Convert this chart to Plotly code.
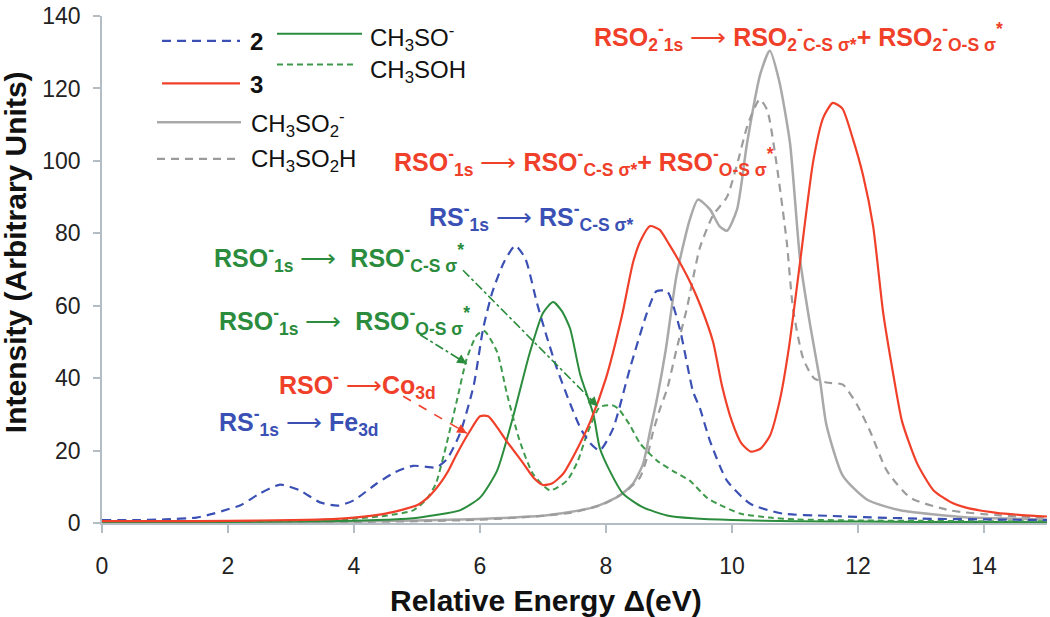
import plotly.graph_objects as go

# ---------------- data ----------------
energy_2 = [0, 0.5, 1.0, 1.5, 1.77, 2.0, 2.2, 2.5, 2.83, 3.14, 3.46, 3.75, 4.0, 4.36, 4.65,
            4.94, 5.15, 5.3, 5.47, 5.68, 5.9, 6.05, 6.2, 6.38, 6.56, 6.72, 6.9, 7.05, 7.22,
            7.43, 7.6, 7.75, 7.9, 8.11, 8.38, 8.65, 8.8, 8.97, 9.17, 9.38, 9.49, 9.65, 9.92,
            10.29, 10.8, 11.5, 12.1, 13, 14, 15]
intensity_2 = [0.8, 0.8, 1.0, 1.5, 2.6, 3.8, 4.9, 8.1, 10.6, 9.0, 5.7, 4.8, 6.3, 10.9, 14.0,
               15.8, 15.5, 15.3, 17.5, 24.6, 38, 53.7, 64, 72, 76.6, 73, 61, 52, 42.7,
               33, 26, 22, 20, 26, 42.7, 58, 64, 64, 53.7, 36.4, 31.7, 22.7, 11.7,
               5.3, 2.6, 2.0, 1.6, 1.2, 1.0, 0.8]

energy_3 = [0, 1, 2, 3, 3.5, 4.0, 4.5, 5.0, 5.2, 5.37, 5.5, 5.63, 5.84, 6.0, 6.13, 6.27, 6.42,
            6.69, 6.85, 7.0, 7.15, 7.32, 7.5, 7.75, 8.0, 8.25, 8.43, 8.55, 8.7, 8.85, 9.0,
            9.17, 9.35, 9.5, 9.7, 9.84, 10.0, 10.15, 10.3, 10.45, 10.6, 10.76, 10.9, 11.08,
            11.29, 11.45, 11.6, 11.75, 11.92, 12.08, 12.24, 12.4, 12.56, 12.7, 12.94, 13.2,
            13.5, 13.7, 14.2, 14.6, 15]
intensity_3 = [0.5, 0.5, 0.6, 0.8, 1.0, 1.5, 2.6, 4.9, 7.5, 11.0, 14.5, 19, 25.4, 29.5, 29.5,
               26.5, 22.7, 16.4, 12.5, 10.5, 11, 13.6, 19, 28, 40, 57, 72, 78, 82, 81, 77,
               72, 66, 60, 50, 38, 28, 22, 19.7, 20.5, 24, 34, 48, 72, 100, 112, 116, 114.5,
               106, 96, 82, 58, 41, 28, 16.4, 9, 5.5, 4.3, 2.8, 2.2, 1.8]

energy_ch3so = [0, 1, 2, 3, 4, 4.5, 4.94, 5.3, 5.68, 6.0, 6.27, 6.52, 6.79, 7.0, 7.16, 7.3,
                7.43, 7.59, 7.8, 7.9, 8.06, 8.27, 8.59, 8.97, 9.38, 10, 11, 12, 13, 14, 15]
intensity_ch3so = [0.2, 0.2, 0.3, 0.4, 0.6, 0.9, 1.3, 2.2, 3.5, 7, 14.4, 29, 47, 58, 61, 58.5,
                   53.7, 41, 30, 20.8, 14.4, 8.1, 4.3, 2.1, 1.3, 0.8, 0.5, 0.4, 0.3, 0.3, 0.2]

energy_ch3soh = [0, 1, 2, 3, 4, 4.5, 4.94, 5.15, 5.3, 5.47, 5.63, 5.79, 5.95, 6.07, 6.27, 6.43,
                 6.63, 6.84, 7.11, 7.38, 7.55, 7.7, 7.9, 8.1, 8.2, 8.38, 8.54, 8.81, 9.06,
                 9.33, 9.6, 9.76, 10.13, 10.6, 11, 12, 13, 14, 15]
intensity_ch3soh = [0.5, 0.5, 0.5, 0.6, 1.2, 2.0, 3.5, 6.5, 10.9, 21.9, 33.6, 45.4, 51.9, 53,
                    47.3, 35.5, 22.7, 13.6, 9, 11.7, 17, 24.6, 32, 32.5, 31.5, 27, 22, 17.2,
                    14.4, 11.7, 7, 5.4, 2.6, 1.5, 1.0, 0.7, 0.6, 0.5, 0.5]

energy_ch3so2 = [0, 2, 4, 5, 6, 6.5, 7.0, 7.27, 7.8, 8.22, 8.43, 8.59, 8.7, 8.81, 8.95, 9.12,
                 9.33, 9.46, 9.65, 9.8, 9.92, 10.08, 10.24, 10.45, 10.6, 10.75, 10.92, 11.08,
                 11.24, 11.4, 11.5, 11.76, 12.14, 12.67, 13.7, 14.5, 15]
intensity_ch3so2 = [0.2, 0.2, 0.4, 0.7, 1.1, 1.5, 2.0, 2.6, 4.3, 7.6, 10.9, 16.4, 25.4, 34.4,
                    48, 68.4, 83.8, 89.3, 86.6, 82, 80.7, 86.6, 105, 124, 130.4, 122, 105,
                    72.9, 54.7, 39, 27, 13, 6.5, 3.5, 1.6, 1.2, 1.0]

energy_ch3so2h = [0, 2, 4, 5, 6, 7, 7.5, 8.0, 8.33, 8.54, 8.65, 8.75, 8.86, 8.97, 9.12, 9.28,
                  9.49, 9.7, 9.92, 10.08, 10.25, 10.44, 10.56, 10.7, 10.87, 10.97, 11.13, 11.3,
                  11.5, 11.76, 11.98, 12.19, 12.46, 12.83, 13.46, 14.25, 15]
intensity_ch3so2h = [0.2, 0.2, 0.3, 0.5, 0.9, 2.0, 3.0, 5.5, 9, 12.6, 18, 25.4, 31.7, 37, 48,
                     59, 76, 85, 90, 99, 110, 117, 114, 100, 77.5, 59, 45.4, 40, 38.8, 38.2,
                     32.8, 25.4, 14.4, 7, 3.5, 2.1, 1.5]

x_ticks = [0, 2, 4, 6, 8, 10, 12, 14]
y_ticks = [0, 20, 40, 60, 80, 100, 120, 140]

# ---------------- styling ----------------
FONT = "Liberation Sans, Arial, sans-serif"
BLUE = "#3b50b4"
RED = "#f0402a"
GREEN = "#2a8c3c"
GREEN_D = "#3f9a4c"
GRAY = "#a9a9a9"
GRAY_D = "#9c9c9c"
AXIS = "#b4bcc4"

W, H = 1050, 617
L, R, T, B = 102, 3, 12, 94
PW, PH = W - L - R, H - T - B


def pxx(v):
    return (v - L) / PW


def pxy(v):
    return (H - B - v) / PH


fig = go.Figure()

series = [
    ("CH3SO2-", energy_ch3so2, intensity_ch3so2, GRAY, "solid", 2.5),
    ("CH3SO2H", energy_ch3so2h, intensity_ch3so2h, GRAY_D, "8px,6px", 2.2),
    ("CH3SO-", energy_ch3so, intensity_ch3so, GREEN, "solid", 2.0),
    ("CH3SOH", energy_ch3soh, intensity_ch3soh, GREEN_D, "6px,4px", 2.0),
    ("2", energy_2, intensity_2, BLUE, "9px,6px", 2.2),
    ("3", energy_3, intensity_3, RED, "solid", 2.2),
]
for name, xs, ys, col, dash, w in series:
    fig.add_trace(go.Scatter(x=xs, y=ys, mode="lines", name=name, showlegend=False,
                             line=dict(color=col, dash=dash, width=w, shape="spline",
                                       smoothing=0.6)))

# ---------------- hand-made legend ----------------
legend_items = [
    # x0, x1, y, colour, dash, width, text, text_x, text_y
    (162, 240, 37, BLUE, "9px,6px", 2.2, "<b>2</b>", 248, 38),
    (162, 240, 80, RED, "solid", 2.2, "<b>3</b>", 248, 81),
    (277, 362, 30, GREEN, "solid", 2.0, "CH<sub>3</sub>SO<sup>-</sup>", 368, 34),
    (277, 357, 61, GREEN_D, "6px,4px", 2.0, "CH<sub>3</sub>SOH", 368, 68),
    (157, 241, 119, GRAY, "solid", 2.5, "CH<sub>3</sub>SO<sub>2</sub><sup>-</sup>", 249, 121),
    (157, 237, 156, GRAY_D, "8px,6px", 2.2, "CH<sub>3</sub>SO<sub>2</sub>H", 249, 158),
]
for x0, x1, yy, col, dash, w, txt, tx, ty in legend_items:
    fig.add_shape(type="line", xref="paper", yref="paper", x0=pxx(x0), x1=pxx(x1),
                  y0=pxy(yy), y1=pxy(yy), line=dict(color=col, dash=dash, width=w))
    fig.add_annotation(xref="paper", yref="paper", x=pxx(tx), y=pxy(ty), text=txt,
                       showarrow=False, xanchor="left", yanchor="middle",
                       font=dict(family=FONT, size=24, color="#111111"))

# ---------------- peak labels ----------------
ARROW = " ⟶ "
labels = [
    ("<b>RSO<sub>2</sub><sup>-</sup><sub>1s</sub></b>" + ARROW +
     "<b>RSO<sub>2</sub><sup>-</sup><sub>C-S σ*</sub>+ RSO<sub>2</sub><sup>-</sup><sub>O-S σ</sub><sup>*</sup></b>",
     592, 33, RED),
    ("<b>RSO<sup>-</sup><sub>1s</sub></b>" + ARROW +
     "<b>RSO<sup>-</sup><sub>C-S σ*</sub>+ RSO<sup>-</sup><sub>O-S σ</sub><sup>*</sup></b>",
     392, 159, RED),
    ("<b>RS<sup>-</sup><sub>1s</sub></b>" + ARROW + "<b>RS<sup>-</sup><sub>C-S σ*</sub></b>",
     427, 215, BLUE),
    ("<b>RSO<sup>-</sup><sub>1s</sub></b>" + ARROW + " <b>RSO<sup>-</sup><sub>C-S σ</sub><sup>*</sup></b>",
     212, 256, GREEN),
    ("<b>RSO<sup>-</sup><sub>1s</sub></b>" + ARROW + " <b>RSO<sup>-</sup><sub>O-S σ</sub><sup>*</sup></b>",
     217, 319, GREEN),
    ("<b>RSO<sup>-</sup></b> ⟶<b>Co<sub>3d</sub></b>", 277, 384, RED),
    ("<b>RS<sup>-</sup><sub>1s</sub></b>" + ARROW + "<b>Fe<sub>3d</sub></b>", 217, 421, BLUE),
]
for txt, tx, ty, col in labels:
    fig.add_annotation(xref="paper", yref="paper", x=pxx(tx), y=pxy(ty), text=txt,
                       showarrow=False, xanchor="left", yanchor="middle",
                       font=dict(family=FONT, size=25, color=col))

# ---------------- pointer arrows (data coordinates) ----------------
pointers = [
    # start (x, y), tip (x, y), colour, dash
    ((5.73, 69.8), (7.87, 32.2), GREEN, "dashdot"),
    ((5.05, 52.0), (5.79, 44.0), GREEN, "dashdot"),
    ((4.78, 35.0), (5.79, 24.8), RED, "dash"),
]
for (sx, sy), (ex, ey), col, dash in pointers:
    fig.add_shape(type="line", xref="x", yref="y", x0=sx, y0=sy, x1=ex, y1=ey,
                  line=dict(color=col, dash=dash, width=1.6))
    dxp = (ex - sx) * 63.0
    dyp = -(ey - sy) * 3.648
    n = (dxp ** 2 + dyp ** 2) ** 0.5
    fig.add_annotation(x=ex, y=ey, xref="x", yref="y", text="", showarrow=True,
                       ax=-dxp / n * 12, ay=-dyp / n * 12, arrowhead=2, arrowsize=1.2,
                       arrowwidth=1.6, arrowcolor=col)

# axis titles (placed precisely as annotations)
fig.add_annotation(xref="paper", yref="paper", x=pxx(15), y=pxy(250),
                   text="<b>Intensity (Arbitrary Units)</b>", textangle=-90,
                   showarrow=False, xanchor="center", yanchor="middle",
                   font=dict(family=FONT, size=30, color="#111111"))
fig.add_annotation(xref="paper", yref="paper", x=pxx(546), y=pxy(601),
                   text="<b>Relative Energy Δ(eV)</b>",
                   showarrow=False, xanchor="center", yanchor="middle",
                   font=dict(family=FONT, size=30, color="#111111"))

fig.update_layout(
    width=W, height=H, autosize=False,
    margin=dict(l=L, r=R, t=T, b=B, pad=0),
    paper_bgcolor="white", plot_bgcolor="white",
    font=dict(family=FONT, size=23, color="#222222"),
    xaxis=dict(range=[0, 15], tickvals=x_ticks, ticktext=[str(v) for v in x_ticks],
               showgrid=False, zeroline=False, showline=True, linecolor=AXIS, linewidth=1.5,
               ticks="outside", ticklen=8, tickcolor=AXIS, tickwidth=1.5,
               ticklabelstandoff=14, ticklabeloverflow="allow",
               tickfont=dict(size=23, color="#222222")),
    yaxis=dict(range=[0, 140.01], tickvals=y_ticks, ticktext=[str(v) for v in y_ticks],
               showgrid=False, zeroline=False, showline=True, linecolor=AXIS, linewidth=1.5,
               ticks="outside", ticklen=7, tickcolor=AXIS, tickwidth=1.5,
               ticklabelstandoff=8, ticklabeloverflow="allow",
               tickfont=dict(size=23, color="#222222")),
)

fig.write_html("out.html", config={"displayModeBar": False},
               post_script="document.body.style.margin='0px';")
